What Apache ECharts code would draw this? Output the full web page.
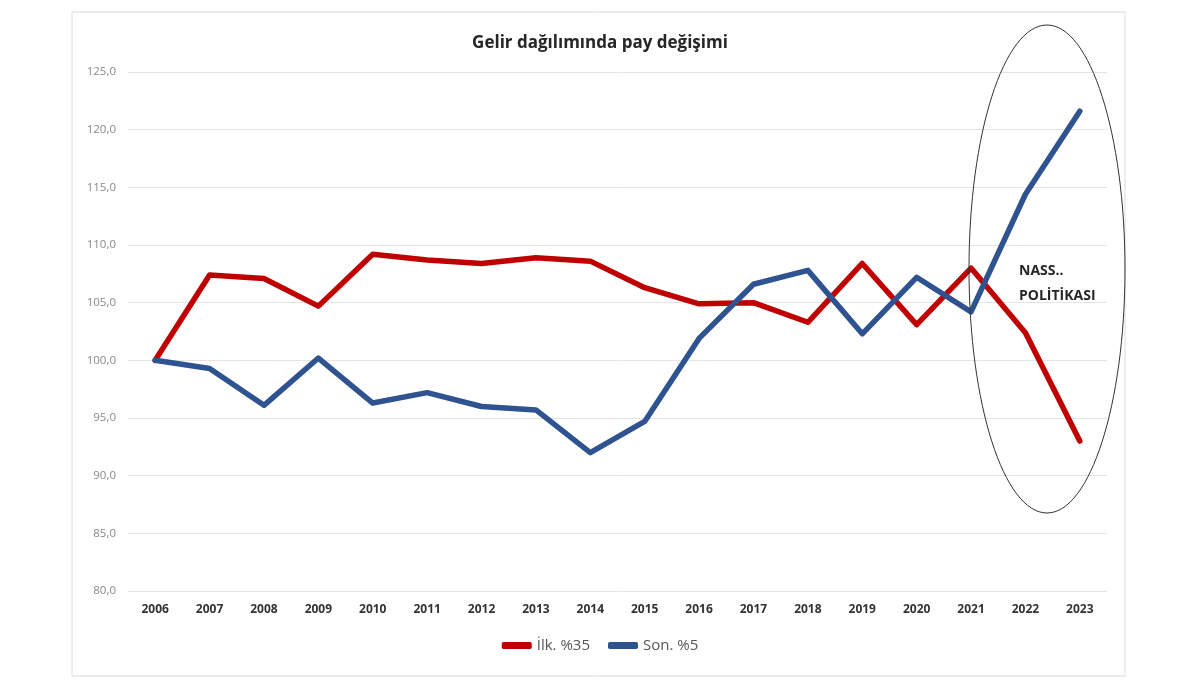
<!DOCTYPE html>
<html>
<head>
<meta charset="utf-8">
<script src="https://cdn.jsdelivr.net/npm/echarts@6/dist/echarts.min.js"></script>
<style>
html,body{margin:0;padding:0;background:#fff;}
#main{width:1200px;height:686px;}
</style>
</head>
<body>
<div id="main"></div>
<script>
var years = ['2006','2007','2008','2009','2010','2011','2012','2013','2014','2015','2016','2017','2018','2019','2020','2021','2022','2023'];
var ilk35 = [100.0,107.4,107.1,104.7,109.2,108.7,108.4,108.9,108.6,106.3,104.9,105.0,103.3,108.4,103.1,108.0,102.4,93.0];
var son5  = [100.0,99.3,96.1,100.2,96.3,97.2,96.0,95.7,92.0,94.7,101.9,106.6,107.8,102.3,107.2,104.2,114.4,121.6];
var seriesNames = ['İlk. %35','Son. %5'];
var titleText = 'Gelir dağılımında pay değişimi';
var noteLines = ['NASS..','POLİTİKASI'];

var chart = echarts.init(document.getElementById('main'));
chart.setOption({
  animation:false,
  backgroundColor:'#ffffff',
  title:{
    text:titleText, left:'center', top:30,
    textStyle:{fontFamily:'Open Sans',fontSize:17,fontWeight:'bold',color:'#262626'}
  },
  legend:{
    bottom:28, left:'center', itemGap:18,
    itemWidth:30, itemHeight:7,
    icon:'roundRect',
    textStyle:{fontFamily:'Liberation Sans Narrow, Open Sans',fontSize:15,color:'#555'},
    data:seriesNames
  },
  grid:{left:128,right:93,top:72,bottom:95},
  xAxis:{
    type:'category', data:years, boundaryGap:true,
    axisLine:{show:false}, axisTick:{show:false},
    axisLabel:{fontFamily:'Liberation Sans Narrow, Open Sans',fontSize:12,fontWeight:'bold',color:'#333',margin:13}
  },
  yAxis:{
    type:'value', min:80, max:125, interval:5,
    axisLine:{show:false}, axisTick:{show:false},
    splitLine:{lineStyle:{color:'#e4e4e4',width:1}},
    axisLabel:{fontFamily:'Open Sans',fontSize:11.5,color:'#888',margin:12,
      formatter:function(v){return v.toFixed(1).replace('.',',');}}
  },
  series:[
    {name:seriesNames[0],type:'line',data:ilk35,symbol:'none',
     lineStyle:{color:'#c00000',width:5.5,join:'round',cap:'round'},itemStyle:{color:'#c00000'}},
    {name:seriesNames[1],type:'line',data:son5,symbol:'none',
     lineStyle:{color:'#2f5290',width:5.5,join:'round',cap:'round'},itemStyle:{color:'#2f5290'}}
  ],
  graphic:[
    {type:'rect',shape:{x:72,y:12,width:1053,height:664},style:{fill:'none',stroke:'#dcdcdc',lineWidth:1},z:-1},
    {type:'ellipse',shape:{cx:1047,cy:269,rx:78,ry:244},style:{fill:'none',stroke:'#333',lineWidth:1},z:10},
    {type:'text',left:1019,top:259,style:{text:noteLines.join('\n'),fontFamily:'Open Sans',fontSize:14,fontWeight:'bold',fill:'#262626',lineHeight:25},z:11}
  ]
});
</script>
</body>
</html>
